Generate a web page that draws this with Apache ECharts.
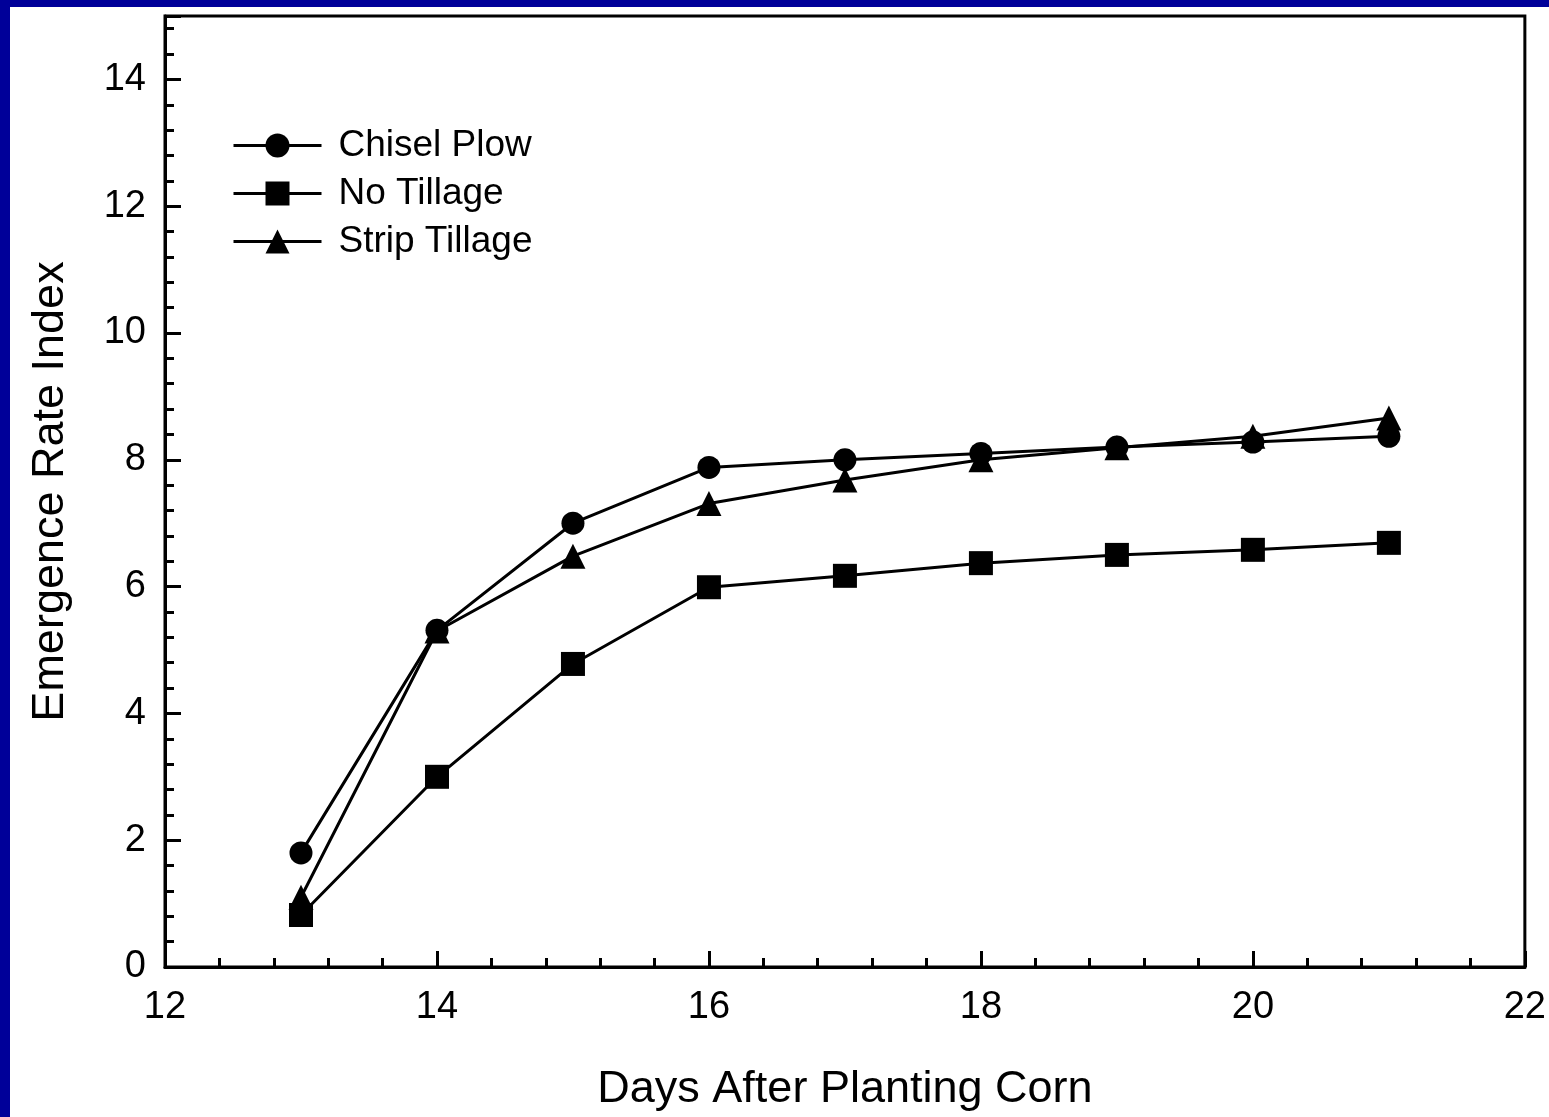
<!DOCTYPE html>
<html>
<head>
<meta charset="utf-8">
<script src="https://cdn.jsdelivr.net/npm/echarts@6/dist/echarts.min.js"></script>
<style>
html,body{margin:0;padding:0;background:#000099;width:1549px;height:1117px;overflow:hidden;}
#chart{position:absolute;left:10px;top:7px;width:1539px;height:1110px;background:#ffffff;}
</style>
</head>
<body>
<div id="chart"></div>
<script>
var days = [13, 14, 15, 16, 17, 18, 19, 20, 21];
var chiselPlow = [1.8, 5.31, 7.0, 7.88, 8.0, 8.1, 8.2, 8.28, 8.37];
var noTillage = [0.82, 3.0, 4.78, 5.99, 6.17, 6.37, 6.5, 6.58, 6.69];
var stripTillage = [1.1, 5.3, 6.48, 7.31, 7.68, 8.0, 8.19, 8.37, 8.66];
var seriesNames = ['Chisel Plow', 'No Tillage', 'Strip Tillage'];
var xTitle = 'Days After Planting Corn';
var yTitle = 'Emergence Rate Index';

function pairs(vals){ return days.map(function(d,i){ return [d, vals[i]]; }); }

var font = 'Liberation Sans, Arial, sans-serif';
var chart = echarts.init(document.getElementById('chart'));
function mk(name, vals, symbol, size){
  return {
    name: name, type: 'line', data: pairs(vals), xAxisIndex: 0, yAxisIndex: 0,
    symbol: symbol, symbolSize: size, showAllSymbol: true,
    lineStyle: {color: '#000', width: 3},
    itemStyle: {color: '#000', borderWidth: 0},
    animation: false
  };
}
chart.setOption({
  animation: false,
  backgroundColor: '#ffffff',
  grid: {left: 155, right: 24, top: 9, bottom: 150, show: true, borderColor: '#000', borderWidth: 3, backgroundColor: 'transparent'},
  legend: {
    left: 217, top: 115, orient: 'vertical', itemWidth: 88, itemHeight: 30, itemGap: 11,
    data: seriesNames,
    lineStyle: {width: 3, color: '#000'},
    textStyle: {fontFamily: font, fontSize: 37, color: '#000', lineHeight: 36, padding: [0,0,0,12]},
    inactiveColor: '#000'
  },
  xAxis: [{
    type: 'value', min: 12, max: 22, interval: 2,
    name: xTitle, nameLocation: 'middle', nameGap: 100,
    nameTextStyle: {fontFamily: font, fontSize: 45, color: '#000'},
    axisLine: {show: true, lineStyle: {color: '#000', width: 3}},
    axisTick: {show: true, inside: true, length: 16, lineStyle: {color: '#000', width: 3}},
    minorTick: {show: true, splitNumber: 5, length: 9, lineStyle: {color: '#000', width: 3}},
    axisLabel: {fontFamily: font, fontSize: 38, color: '#000', margin: 22},
    splitLine: {show: false}
  }],
  yAxis: [{
    type: 'value', min: 0, max: 15, interval: 2,
    name: yTitle, nameLocation: 'middle', nameGap: 92,
    nameTextStyle: {fontFamily: font, fontSize: 45, color: '#000'},
    axisLine: {show: true, lineStyle: {color: '#000', width: 3}},
    axisTick: {show: true, inside: true, length: 16, lineStyle: {color: '#000', width: 3}},
    axisLabel: {fontFamily: font, fontSize: 38, color: '#000', margin: 19,
      formatter: function(v){ return (v % 2 === 0) ? String(v) : ''; }},
    splitLine: {show: false}
  },{
    type: 'value', min: 0, max: 15, interval: 0.4, position: 'left',
    axisLine: {show: false},
    axisTick: {show: true, inside: true, length: 9, lineStyle: {color: '#000', width: 3}},
    axisLabel: {show: false},
    splitLine: {show: false}
  }],
  series: [
    mk(seriesNames[0], chiselPlow, 'circle', 23),
    mk(seriesNames[1], noTillage, 'rect', 24),
    mk(seriesNames[2], stripTillage, 'triangle', 25)
  ]
});
</script>
</body>
</html>
